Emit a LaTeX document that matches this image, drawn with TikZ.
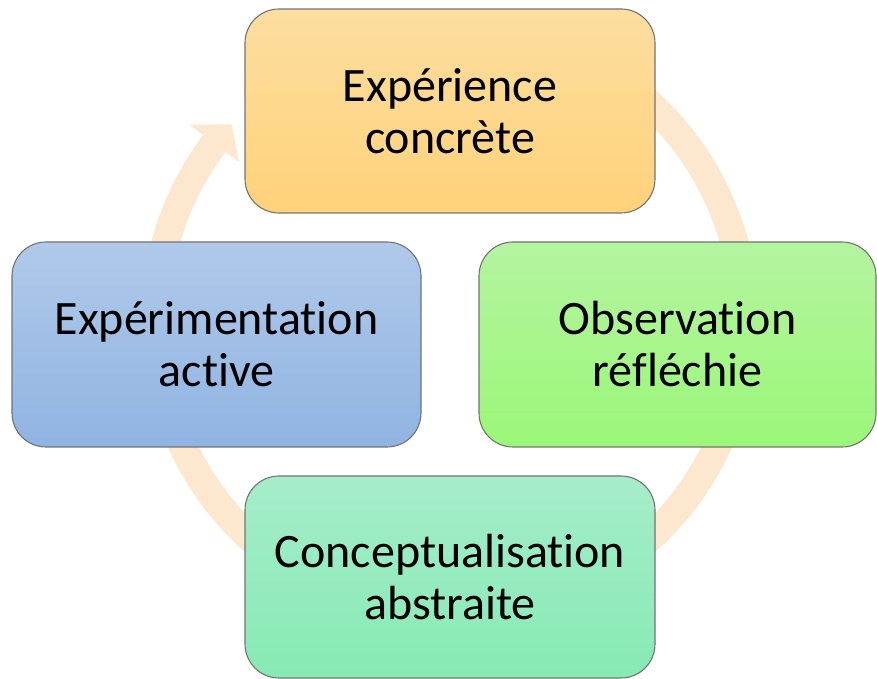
\documentclass[tikz,border=0pt]{standalone}
\usepackage{fontspec}
\setmainfont{Carlito}[Ligatures={NoCommon}]
\definecolor{ringc}{RGB}{253,231,206}
\definecolor{edgec}{RGB}{115,115,115}
\definecolor{orTop}{RGB}{252,222,160}
\definecolor{orBot}{RGB}{255,210,122}
\definecolor{grTop}{RGB}{180,244,160}
\definecolor{grBot}{RGB}{155,247,120}
\definecolor{blTop}{RGB}{176,201,234}
\definecolor{blBot}{RGB}{144,180,226}
\definecolor{mnTop}{RGB}{166,237,202}
\definecolor{mnBot}{RGB}{134,234,180}
\tikzset{
  cyclebox/.style={draw=edgec, line width=1.1pt, rounded corners=34pt,
    align=center, inner sep=0pt, text=black,
    font=\fontsize{48}{52}\selectfont},
  ringband/.style={draw=ringc, line width=28pt},
  ringhead/.style={fill=ringc, draw=none},
}
\begin{document}
\begin{tikzpicture}[x=1pt,y=1pt]
\useasboundingbox (0,0) rectangle (877,679);
\coordinate (C) at (450,358);
% circular arrow
\draw[ringband] ([shift={(70:295)}]C) arc[start angle=70, end angle=-217.5, radius=295];
\fill[ringhead] ([shift={(143:326)}]C) -- ([shift={(138:294)}]C) -- ([shift={(143:264)}]C) -- cycle;
% boxes
\node[cyclebox, minimum width=410pt, minimum height=204pt,
  top color=orTop, bottom color=orBot] (exp) at (450,568) {Expérience\\concrète};
\node[cyclebox, minimum width=397pt, minimum height=205pt,
  top color=grTop, bottom color=grBot] (obs) at (677.5,334.5) {Observation\\réfléchie};
\node[cyclebox, minimum width=409pt, minimum height=205pt,
  top color=blTop, bottom color=blBot] (act) at (216.5,334.5) {Expérimentation\\active};
\node[cyclebox, minimum width=410pt, minimum height=202pt,
  top color=mnTop, bottom color=mnBot] (con) at (450,102) {Conceptualisation\\abstraite};
\end{tikzpicture}
\end{document}
